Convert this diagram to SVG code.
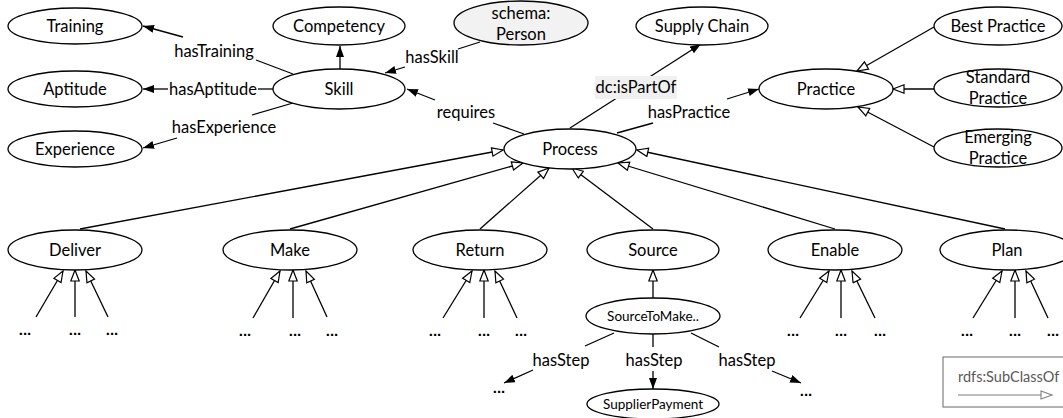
<svg xmlns="http://www.w3.org/2000/svg" width="1063" height="418" viewBox="0 0 1063 418">
<style>
  .n ellipse { fill: #fff; stroke: #000; stroke-width: 1.3; }
  .n text, .lbl { font-family: Lato, "Liberation Sans", sans-serif; font-size: 16.5px; fill: #000; text-anchor: middle; }
  .sm { font-size: 13.5px !important; }
  .e { stroke: #000; stroke-width: 1.3; fill: none; }
  .p { marker-end: url(#fa); }
  .s { marker-end: url(#ha); }
  .dots { font-family: "Liberation Sans", sans-serif; font-size: 15px; font-weight: bold; text-anchor: middle; fill: #000; }
</style>
<defs>
  <marker id="fa" markerUnits="userSpaceOnUse" markerWidth="12" markerHeight="10" refX="11" refY="4" orient="auto">
    <path d="M0,0 L11,4 L0,8 z" fill="#000"/>
  </marker>
  <marker id="ha" markerUnits="userSpaceOnUse" markerWidth="14" markerHeight="12" refX="12" refY="5" orient="auto">
    <path d="M1,0.8 L12,5 L1,9.2 z" fill="#fff" stroke="#000" stroke-width="1.2"/>
  </marker>
  <marker id="ga" markerUnits="userSpaceOnUse" markerWidth="14" markerHeight="12" refX="12" refY="5" orient="auto">
    <path d="M1,1 L12,5 L1,9 z" fill="#fff" stroke="#808080" stroke-width="1.1"/>
  </marker>
</defs>
<rect width="1063" height="418" fill="#fff"/>

<g id="connectors">
  <!-- Skill properties -->
  <line class="e" x1="183" y1="37" x2="143" y2="26" marker-end="url(#fa)"/>
  <line class="e" x1="293" y1="74" x2="256" y2="60"/>
  <line class="e" x1="168" y1="89" x2="143" y2="89" marker-end="url(#fa)"/>
  <line class="e" x1="273" y1="89" x2="258" y2="89"/>
  <line class="e" x1="177" y1="138" x2="143" y2="148" marker-end="url(#fa)"/>
  <line class="e" x1="293" y1="103" x2="252" y2="115"/>
  <line class="e p" x1="340" y1="69" x2="340" y2="46"/>
  <line class="e" x1="480" y1="42" x2="458" y2="49"/>
  <line class="e p" x1="405" y1="67" x2="385" y2="73"/>
  <line class="e" x1="524" y1="134" x2="493" y2="123"/>
  <line class="e p" x1="435" y1="100" x2="407" y2="89"/>
  <line class="e p" x1="570" y1="128" x2="701" y2="44"/>
  <line class="e" x1="617" y1="133" x2="653" y2="123"/>
  <line class="e p" x1="727" y1="99" x2="759" y2="89"/>
  <!-- Practice subclasses -->
  <line class="e s" x1="934" y1="27" x2="857" y2="71"/>
  <line class="e s" x1="934" y1="89" x2="893" y2="89"/>
  <line class="e s" x1="934" y1="147" x2="858" y2="107"/>
  <!-- Process subclasses -->
  <line class="e s" x1="80" y1="229" x2="503" y2="150"/>
  <line class="e s" x1="290" y1="229" x2="523" y2="163"/>
  <line class="e s" x1="480" y1="229" x2="549" y2="168"/>
  <line class="e s" x1="653" y1="229" x2="572" y2="168"/>
  <line class="e s" x1="835" y1="229" x2="618" y2="163"/>
  <line class="e s" x1="1005" y1="229" x2="637" y2="150"/>
  <!-- Deliver -->
  <line class="e s" x1="36" y1="317" x2="63" y2="271"/>
  <line class="e s" x1="75" y1="317" x2="75" y2="270"/>
  <line class="e s" x1="108" y1="317" x2="86" y2="271"/>
  <!-- Make -->
  <line class="e s" x1="253" y1="318" x2="280" y2="271"/>
  <line class="e s" x1="293" y1="318" x2="293" y2="270"/>
  <line class="e s" x1="327" y1="317" x2="306" y2="271"/>
  <!-- Return -->
  <line class="e s" x1="443" y1="318" x2="472" y2="271"/>
  <line class="e s" x1="484" y1="318" x2="484" y2="270"/>
  <line class="e s" x1="517" y1="318" x2="495" y2="271"/>
  <!-- Source -->
  <line class="e s" x1="653" y1="298" x2="653" y2="270"/>
  <!-- Enable -->
  <line class="e s" x1="800" y1="318" x2="829" y2="271"/>
  <line class="e s" x1="841" y1="318" x2="841" y2="270"/>
  <line class="e s" x1="875" y1="318" x2="852" y2="271"/>
  <!-- Plan -->
  <line class="e s" x1="973" y1="318" x2="1002" y2="271"/>
  <line class="e s" x1="1015" y1="318" x2="1015" y2="270"/>
  <line class="e s" x1="1048" y1="318" x2="1026" y2="271"/>
  <!-- hasStep -->
  <line class="e" x1="614" y1="333" x2="585" y2="346"/>
  <line class="e p" x1="533" y1="370" x2="504" y2="383"/>
  <line class="e" x1="653" y1="334" x2="653" y2="347"/>
  <line class="e p" x1="653" y1="371" x2="653" y2="389"/>
  <line class="e" x1="691" y1="333" x2="719" y2="347"/>
  <line class="e p" x1="772" y1="371" x2="801" y2="383"/>
  <!-- labels -->
  <text class="lbl" x="214" y="57">hasTraining</text>
  <text class="lbl" x="213" y="95">hasAptitude</text>
  <text class="lbl" x="224" y="133">hasExperience</text>
  <text class="lbl" x="432" y="63">hasSkill</text>
  <text class="lbl" x="466" y="118">requires</text>
  <rect x="595" y="76" width="82" height="23" fill="#f0f0f0"/>
  <text class="lbl" x="636" y="93">dc:isPartOf</text>
  <text class="lbl" x="689" y="118">hasPractice</text>
  <text class="lbl" x="561" y="366">hasStep</text>
  <text class="lbl" x="654" y="366">hasStep</text>
  <text class="lbl" x="747" y="366">hasStep</text>
  <!-- dots -->
  <g class="dots">
    <text x="25" y="335">...</text><text x="75" y="335">...</text><text x="112" y="335">...</text>
    <text x="245" y="336">...</text><text x="295" y="336">...</text><text x="332" y="336">...</text>
    <text x="435" y="336">...</text><text x="484" y="336">...</text><text x="521" y="336">...</text>
    <text x="793" y="336">...</text><text x="841" y="336">...</text><text x="880" y="336">...</text>
    <text x="967" y="336">...</text><text x="1015" y="336">...</text><text x="1053" y="336">...</text>
    <text x="499" y="393">...</text><text x="806" y="396">...</text>
  </g>
</g>

<g id="Training" class="n"><ellipse cx="75" cy="26" rx="67" ry="18"/><text x="75" y="32">Training</text></g>
<g id="Aptitude" class="n"><ellipse cx="75" cy="89" rx="67" ry="18"/><text x="75" y="95">Aptitude</text></g>
<g id="Experience" class="n"><ellipse cx="75" cy="149" rx="67" ry="18"/><text x="75" y="155">Experience</text></g>
<g id="Competency" class="n"><ellipse cx="339" cy="26" rx="66" ry="19"/><text x="339" y="32">Competency</text></g>
<g id="Skill" class="n"><ellipse cx="339" cy="89" rx="66" ry="20"/><text x="339" y="95">Skill</text></g>
<g id="schemaPerson" class="n"><ellipse cx="521" cy="23" rx="67" ry="22" style="fill:#f2f2f2"/><text x="521" y="19">schema:</text><text x="521" y="40">Person</text></g>
<g id="SupplyChain" class="n"><ellipse cx="702" cy="26" rx="66" ry="19"/><text x="702" y="32">Supply Chain</text></g>
<g id="Practice" class="n"><ellipse cx="826" cy="89" rx="67" ry="20"/><text x="826" y="95">Practice</text></g>
<g id="BestPractice" class="n"><ellipse cx="998" cy="26" rx="64" ry="19"/><text x="998" y="32">Best Practice</text></g>
<g id="StandardPractice" class="n"><ellipse cx="998" cy="88" rx="64" ry="19"/><text x="998" y="83">Standard</text><text x="998" y="104">Practice</text></g>
<g id="EmergingPractice" class="n"><ellipse cx="998" cy="148" rx="64" ry="19"/><text x="998" y="143">Emerging</text><text x="998" y="164">Practice</text></g>
<g id="Process" class="n"><ellipse cx="570" cy="149" rx="66" ry="20"/><text x="570" y="155">Process</text></g>
<g id="Deliver" class="n"><ellipse cx="75" cy="250" rx="67" ry="20"/><text x="75" y="256">Deliver</text></g>
<g id="Make" class="n"><ellipse cx="290" cy="250" rx="67" ry="20"/><text x="290" y="256">Make</text></g>
<g id="Return" class="n"><ellipse cx="480" cy="250" rx="67" ry="20"/><text x="480" y="256">Return</text></g>
<g id="Source" class="n"><ellipse cx="653" cy="250" rx="66" ry="20"/><text x="653" y="256">Source</text></g>
<g id="Enable" class="n"><ellipse cx="835" cy="250" rx="67" ry="20"/><text x="835" y="256">Enable</text></g>
<g id="Plan" class="n"><ellipse cx="1007" cy="250" rx="67" ry="20"/><text x="1007" y="256">Plan</text></g>
<g id="SourceToMake" class="n"><ellipse cx="653" cy="316" rx="67" ry="18"/><text class="sm" x="653" y="321">SourceToMake..</text></g>
<g id="SupplierPayment" class="n"><ellipse cx="653" cy="404" rx="66" ry="15"/><text class="sm" x="653" y="409">SupplierPayment</text></g>

<g id="legend">
  <rect x="943" y="357" width="130" height="50" fill="#fff" stroke="#808080" stroke-width="1.2"/>
  <text x="958" y="382" style="font-family: Lato, 'Liberation Sans', sans-serif; font-size: 14.5px; fill:#595959">rdfs:SubClassOf</text>
  <line x1="958" y1="395" x2="1052" y2="395" stroke="#808080" stroke-width="1.1" marker-end="url(#ga)"/>
</g>
</svg>
